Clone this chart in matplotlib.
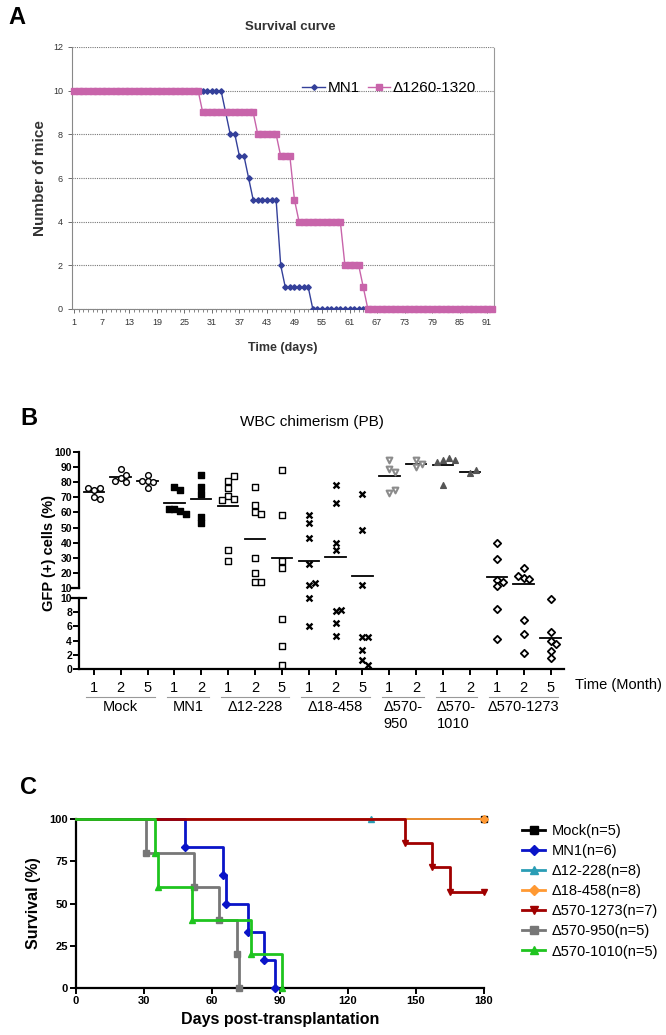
import matplotlib

matplotlib.use("Agg")

import matplotlib.pyplot as plt
import numpy as np
from matplotlib.lines import Line2D
from matplotlib.transforms import blended_transform_factory

plt.rcParams["font.family"] = ["Liberation Sans", "DejaVu Sans"]

W, H = 666, 1035

# ---- Panel A: survival curve (mice alive per day) ----
DAYS = np.arange(1, 93)
MN1_LEVELS = [10, 9, 8, 7, 6, 5, 2, 1, 0]
MN1_RUNS = [33, 1, 2, 2, 1, 6, 1, 6, 40]
DEL1260_LEVELS = [10, 9, 8, 7, 5, 4, 2, 1, 0]
DEL1260_RUNS = [28, 12, 5, 3, 1, 10, 4, 1, 28]
A_XTICKS = list(range(1, 92, 6))

# ---- Panel B: WBC chimerism (% GFP+), one list per time point ----
B_GROUPS = ["Mock", "MN1", "Δ12-228", "Δ18-458", "Δ570-\n950", "Δ570-\n1010", "Δ570-1273"]
B_MONTHS = [[1, 2, 5], [1, 2], [1, 2, 5], [1, 2, 5], [1, 2], [1, 2], [1, 2, 5]]
MOCK_PB = [[75, 76, 76, 70, 69], [89, 83, 85, 80, 81], [85, 81, 80, 81, 76]]
MN1_PB = [[77, 75, 62, 61, 62, 59], [85, 77, 72, 57, 53]]
D12_PB = [[81, 84, 76, 71, 69, 68, 35, 28], [77, 65, 60, 59, 30, 20, 14, 14], [88, 58, 28, 23, 7, 3.3, 0.5]]
D18_PB = [[58, 53, 43, 26, 12, 10, 13, 6], [78, 66, 40, 35, 8.1, 8.3, 6.5, 4.7], [72, 48.5, 12, 4.5, 4.5, 2.7, 1.2, 0.5]]
D950_PB = [[95, 89, 87, 73, 75], [95, 90, 92]]
D1010_PB = [[95, 96, 93.5, 95, 78], [86, 88]]
D1273_PB = [[39.5, 29, 15, 11, 14, 8.5, 4.2], [23.4, 16.6, 15.9, 18.1, 6.9, 4.9, 2.2], [9.9, 5.2, 3.9, 3.5, 2.6, 1.5]]

# ---- Panel C: Kaplan-Meier (event days, survival % after event, last follow-up day) ----
C_LABELS = ["Mock(n=5)", "MN1(n=6)", "Δ12-228(n=8)", "Δ18-458(n=8)", "Δ570-1273(n=7)", "Δ570-950(n=5)", "Δ570-1010(n=5)"]
MOCK_T, MOCK_S, MOCK_END = [], [], 180
MN1_T, MN1_S, MN1_END = [48, 65, 66, 76, 83, 88], [83.3, 66.7, 50, 33.3, 16.7, 0], 88
D12_T, D12_S, D12_END = [], [], 130
D18_T, D18_S, D18_END = [], [], 180
D1273_T, D1273_S, D1273_END = [145, 157, 165], [85.7, 71.4, 57.1], 180
D950_T, D950_S, D950_END = [31, 52, 63, 71, 72], [80, 60, 40, 20, 0], 72
D1010_T, D1010_S, D1010_END = [35, 36, 51, 77, 91], [80, 60, 40, 20, 0], 91


def fx(px):
    return px / W


def fy(px):
    return 1 - px / H


fig = plt.figure(figsize=(W / 100, H / 100), dpi=100)

# =============== Panel A ===============
axA = fig.add_axes([fx(72), fy(309), 422 / W, 262 / H])
mn1 = np.repeat(MN1_LEVELS, MN1_RUNS)
dlt = np.repeat(DEL1260_LEVELS, DEL1260_RUNS)
axA.plot(DAYS, mn1, color="#34409A", lw=1.0, marker="D", ms=2.8, mec="#34409A", label="MN1", zorder=3)
axA.plot(DAYS, dlt, color="#C864AA", lw=1.0, marker="s", ms=4.4, mec="#C864AA", label="Δ1260-1320", zorder=4,
         clip_on=False)
axA.set_xlim(0.5, 92.5)
axA.set_ylim(0, 12)
axA.set_yticks(range(0, 13, 2))
axA.set_xticks(A_XTICKS)
axA.set_xticks(DAYS, minor=True)
axA.tick_params(axis="both", labelsize=6.5, colors="#555555", length=3, width=0.6, labelcolor="#333333")
axA.tick_params(axis="x", which="minor", length=2.5, width=0.5, colors="#555555")
axA.grid(axis="y", linestyle=(0, (1, 1)), color="#777777", lw=0.8)
axA.set_axisbelow(True)
for s in ("left", "bottom"):
    axA.spines[s].set_color("#888888")
    axA.spines[s].set_linewidth(0.8)
axA.spines["top"].set_visible(False)
axA.spines["right"].set_linestyle((0, (1, 1)))
axA.spines["right"].set_color("#999999")
axA.set_ylabel("Number of mice", fontsize=11, fontweight="bold", color="#333333", labelpad=4)
axA.set_xlabel("Time (days)", fontsize=9, fontweight="bold", color="#333333", labelpad=11)
fig.text(fx(290), fy(27), "Survival curve", ha="center", va="center", fontsize=9.5, fontweight="bold",
         color="#333333")
axA.legend(loc="center right", bbox_to_anchor=(0.99, 0.843), ncol=2, frameon=False, fontsize=11,
           handlelength=1.5, handletextpad=0.15, columnspacing=0.5, numpoints=1)
fig.text(fx(8), fy(17), "A", ha="left", va="center", fontsize=17, fontweight="bold")

# =============== Panel B ===============
xl = (0.45, 18.5)
axU = fig.add_axes([fx(79), fy(588), 485 / W, 136 / H])
axL = fig.add_axes([fx(79), fy(669), 485 / W, 71 / H])
axU.set_xlim(*xl)
axL.set_xlim(*xl)
axU.set_ylim(10, 100)
axL.set_ylim(0, 10)
axU.set_yticks(range(10, 101, 10))
axL.set_yticks(range(0, 11, 2))
for ax in (axU, axL):
    ax.spines["top"].set_visible(False)
    ax.spines["right"].set_visible(False)
    ax.spines["left"].set_linewidth(1.6)
    ax.tick_params(axis="y", labelsize=7.5, length=4, width=1.4, pad=1)
    for lab in ax.get_yticklabels():
        lab.set_fontweight("bold")
axU.spines["bottom"].set_visible(False)
axU.tick_params(axis="x", bottom=False, labelbottom=False)
axL.spines["bottom"].set_linewidth(1.6)
# small break caps on the y axis
axL.plot([-0.015, 0.015], [1, 1], transform=axL.transAxes, color="black", lw=1.6, clip_on=False)
axU.plot([-0.015, 0.0], [0, 0], transform=axU.transAxes, color="black", lw=1.6, clip_on=False)

styles = [
    dict(marker="o", facecolors="white", edgecolors="black", linewidths=1.0),
    dict(marker="s", facecolors="black", edgecolors="black", linewidths=1.0),
    dict(marker="s", facecolors="white", edgecolors="black", linewidths=1.0),
    dict(marker="x", color="black", linewidths=1.7),
    dict(marker="v", facecolors="white", edgecolors="#8C8C8C", linewidths=1.5),
    dict(marker="^", facecolors="#555555", edgecolors="#555555", linewidths=1.0),
    dict(marker="D", facecolors="white", edgecolors="black", linewidths=1.3),
]
group_data = [MOCK_PB, MN1_PB, D12_PB, D18_PB, D950_PB, D1010_PB, D1273_PB]

col = 0
tick_pos, tick_lab, group_spans = [], [], []
px_per_col = axL.transData.transform((1, 0))[0] - axL.transData.transform((0, 0))[0]
for g, (name, months, data, st) in enumerate(zip(B_GROUPS, B_MONTHS, group_data, styles)):
    first = col + 1
    for m, vals in zip(months, data):
        col += 1
        tick_pos.append(col)
        tick_lab.append(str(m))
        placed = []
        for v in vals:
            ax = axU if v > 10 else axL
            py = ax.transData.transform((col, v))[1]
            k = 0
            while True:
                off = ((k + 1) // 2) * (1 if k % 2 else -1) * 5.8 if k else 0.0
                if all(np.hypot(off - ox, py - oy) >= 5.5 for ox, oy in placed):
                    break
                k += 1
            placed.append((off, py))
            size = 14 if st["marker"] == "D" else (18 if st["marker"] == "x" else 17)
            ax.scatter([col + off / px_per_col], [v], s=size, zorder=4, clip_on=False, **st)
        mean = float(np.mean(vals))
        ax = axU if mean > 10 else axL
        ax.plot([col - 0.38, col + 0.38], [mean, mean], color="black", lw=1.3, zorder=3)
    group_spans.append((first, col))

axL.set_xticks(tick_pos)
axL.set_xticklabels(tick_lab)
axL.tick_params(axis="x", labelsize=10.5, length=4, width=1.4, pad=5)

trB = blended_transform_factory(axL.transData, fig.transFigure)
for name, (a, b) in zip(B_GROUPS, group_spans):
    axL.plot([a - 0.28, b + 0.28], [fy(697), fy(697)], transform=trB, color="#999999", lw=0.8, clip_on=False)
    axL.text((a + b) / 2, fy(700), name, transform=trB, ha="center", va="top", fontsize=10.5,
             multialignment="left", linespacing=1.25)
fig.text(fx(575), fy(685), "Time (Month)", ha="left", va="center", fontsize=10.5)
fig.text(fx(312), fy(422), "WBC chimerism (PB)", ha="center", va="center", fontsize=11)
fig.text(fx(49), fy(553), "GFP (+) cells (%)", ha="center", va="center", rotation=90, fontsize=10.5,
         fontweight="bold")
fig.text(fx(20), fy(418), "B", ha="left", va="center", fontsize=17, fontweight="bold")

# =============== Panel C ===============
axC = fig.add_axes([fx(76), fy(988), 408 / W, 169 / H])
c_series = [
    (MOCK_T, MOCK_S, MOCK_END, "black", "s", 2),
    (MN1_T, MN1_S, MN1_END, "#0A14C8", "D", 4),
    (D12_T, D12_S, D12_END, "#2A9DB5", "^", 2.2),
    (D18_T, D18_S, D18_END, "#FF9933", "D", 2.4),
    (D1273_T, D1273_S, D1273_END, "#A00000", "v", 5),
    (D950_T, D950_S, D950_END, "#777777", "s", 3.5),
    (D1010_T, D1010_S, D1010_END, "#1FC41F", "^", 6),
]
handles = []
for (ts, ss, end, color, mk, z), lab in zip(c_series, C_LABELS):
    xs, ys = [0], [100]
    prev = 100
    for t, s in zip(ts, ss):
        xs += [t, t]
        ys += [prev, s]
        prev = s
    if not ts or end > ts[-1]:
        xs.append(end)
        ys.append(prev)
        mx, my = list(ts) + [end], list(ss) + [prev]
    else:
        mx, my = ts, ss
    lw = 2.0 if ts else 1.3
    axC.plot(xs, ys, color=color, lw=lw, zorder=z, clip_on=False)
    axC.plot(mx, my, ls="none", marker=mk, ms=4.5, color=color, zorder=z + 0.1, clip_on=False)
    handles.append(Line2D([], [], color=color, lw=2.0, marker=mk, ms=5.5))
axC.set_xlim(0, 180)
axC.set_ylim(0, 100)
axC.set_xticks(range(0, 181, 30))
axC.set_yticks(range(0, 101, 25))
axC.spines["top"].set_visible(False)
axC.spines["right"].set_visible(False)
for s in ("left", "bottom"):
    axC.spines[s].set_linewidth(1.6)
axC.tick_params(axis="both", labelsize=8, length=4, width=1.4, pad=2)
for lab in axC.get_xticklabels() + axC.get_yticklabels():
    lab.set_fontweight("bold")
axC.set_xlabel("Days post-transplantation", fontsize=11.5, fontweight="bold", labelpad=4)
axC.set_ylabel("Survival (%)", fontsize=11.5, fontweight="bold", labelpad=6)
fig.legend(handles, C_LABELS, loc="upper left", bbox_to_anchor=(fx(516), fy(818)), frameon=False,
           fontsize=10.5, handlelength=1.6, handletextpad=0.45, labelspacing=0.42, borderaxespad=0)
fig.text(fx(20), fy(787), "C", ha="left", va="center", fontsize=17, fontweight="bold")

fig.savefig("out.png", dpi=100, facecolor="white")
